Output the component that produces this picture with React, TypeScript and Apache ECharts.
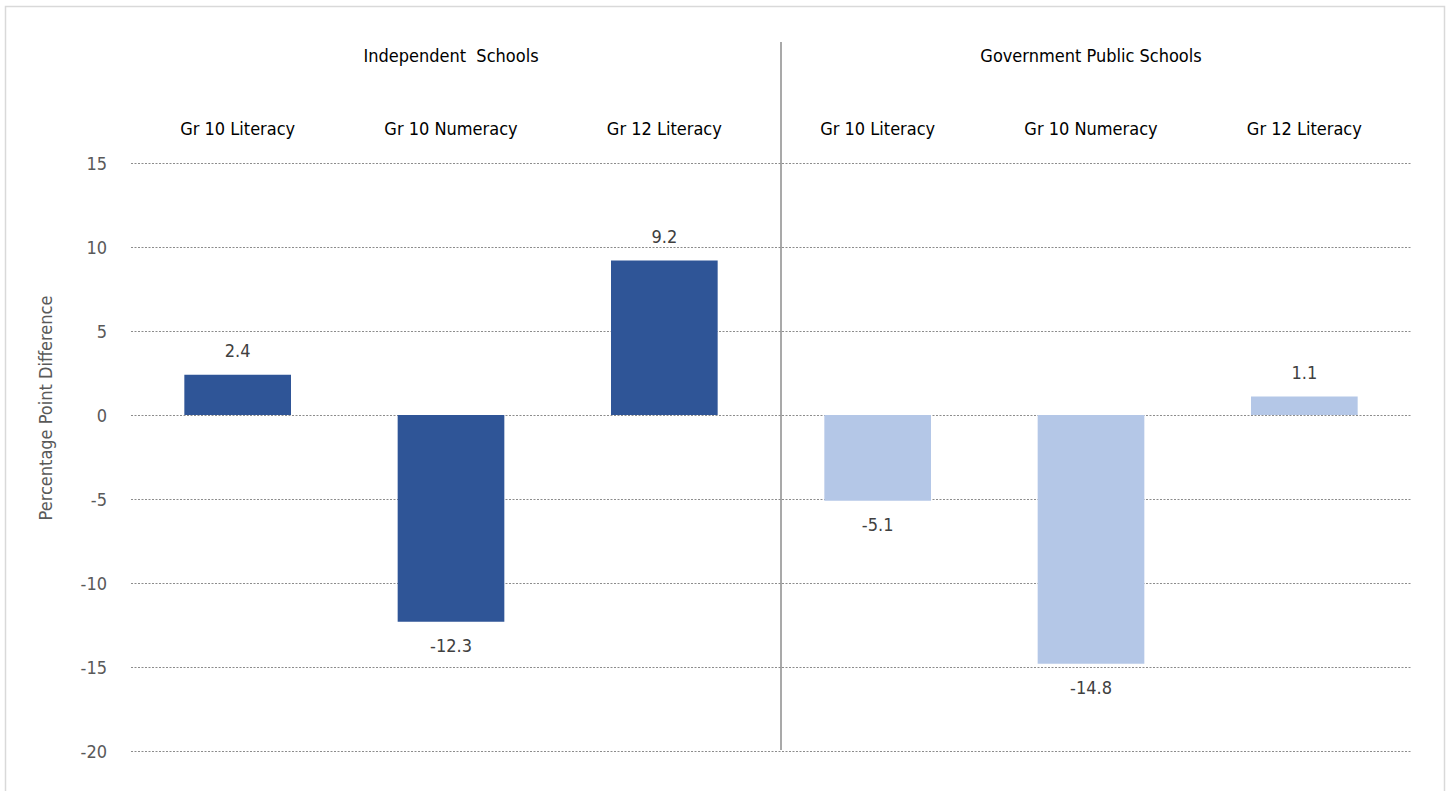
import React, { useEffect, useRef } from "react";
import * as echarts from "echarts";

const categories = ["Gr 10 Literacy", "Gr 10 Numeracy", "Gr 12 Literacy", "Gr 10 Literacy", "Gr 10 Numeracy", "Gr 12 Literacy"];
const groups = ["Independent  Schools", "Government Public Schools"];
const values = [2.4, -12.3, 9.2, -5.1, -14.8, 1.1];
const groupOfBar = [0, 0, 0, 1, 1, 1];
const groupColors = ["#2F5597", "#B4C7E7"];
const yTicks = { min: -20, max: 15, interval: 5 };
const yAxisTitle = "Percentage Point Difference";

const FONT = "'Liberation Sans Narrow', 'DejaVu Sans Condensed', 'Roboto', sans-serif";

export default function App() {
  const ref = useRef<HTMLDivElement>(null);
  useEffect(() => {
    if (!ref.current) return;
    const chart = echarts.init(ref.current, null, { renderer: "svg" });
    const gridLeft = 131, gridRight = 39, gridTop = 163, gridBottom = 40;
    chart.setOption({
      animation: false,
      textStyle: { fontFamily: FONT },
      grid: { left: gridLeft, right: gridRight, top: gridTop, bottom: gridBottom, containLabel: false },
      graphic: [
        { type: "rect", shape: { x: 5.5, y: 6.5, width: 1439, height: 800 }, style: { fill: "none", stroke: "#d9d9d9", lineWidth: 1.5 }, silent: true },
        { type: "line", shape: { x1: 781, y1: 42, x2: 781, y2: 750 }, style: { stroke: "#8c8c8c", lineWidth: 1.5 }, silent: true },
        {
          type: "text",
          x: 45,
          y: 408,
          rotation: Math.PI / 2,
          style: { text: yAxisTitle, font: `18px ${FONT}`, fill: "#595959", align: "center", verticalAlign: "middle" },
          silent: true,
        },
      ],
      xAxis: [
        {
          type: "category",
          data: categories,
          position: "top",
          axisLine: { show: false },
          axisTick: { show: false },
          axisLabel: { fontSize: 18, color: "#000000", margin: 26, fontFamily: FONT, interval: 0 },
        },
        {
          type: "category",
          data: groups,
          position: "top",
          offset: 87,
          axisLine: { show: false },
          axisTick: { show: false },
          axisLabel: { fontSize: 18, color: "#000000", margin: 12, fontFamily: FONT, interval: 0 },
        },
      ],
      yAxis: {
        type: "value",
        min: yTicks.min,
        max: yTicks.max,
        interval: yTicks.interval,
        axisLine: { show: false },
        axisTick: { show: false },
        axisLabel: { fontSize: 18, color: "#595959", margin: 24, fontFamily: FONT },
        splitLine: { lineStyle: { type: [2, 1.5], color: "#8c8c8c", width: 1 } },
      },
      series: [
        {
          type: "bar",
          xAxisIndex: 0,
          barWidth: "50%",
          data: values.map((v, i) => ({
            value: v,
            itemStyle: { color: groupColors[groupOfBar[i]] },
            label: { position: v >= 0 ? "top" : "bottom" },
          })),
          label: {
            show: true,
            fontSize: 18,
            color: "#404040",
            distance: 15,
            fontFamily: FONT,
            formatter: (p: any) => Number(p.value).toFixed(1),
          },
        },
      ],
    });
    return () => chart.dispose();
  }, []);
  return <div ref={ref} style={{ position: "fixed", left: 0, top: 0, width: 1450, height: 791, background: "#fff" }} />;
}
